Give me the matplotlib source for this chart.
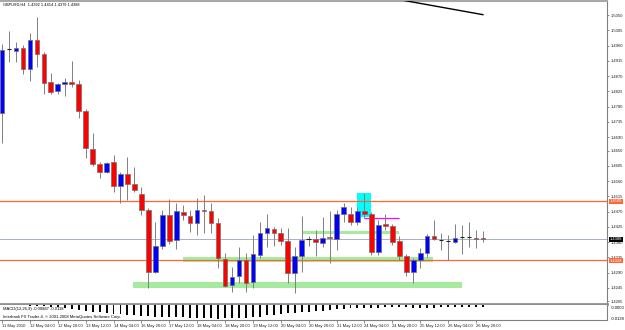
import numpy as np
import matplotlib.pyplot as plt
import matplotlib.transforms as mtransforms
from matplotlib.patches import Rectangle

plt.rcParams['font.family'] = ['Liberation Sans', 'DejaVu Sans']

# GBPUSD H4, 11 May 2010 12:00 -> 27 May 2010 00:00
opens = [1.4761, 1.4950, 1.4944, 1.4953, 1.4891, 1.4976, 1.4935, 1.4852, 1.4826, 1.4846,
         1.4852, 1.4846, 1.4767, 1.4655, 1.4610, 1.4587, 1.4616, 1.4546, 1.4581, 1.4551,
         1.4522, 1.4475, 1.4292, 1.4369, 1.4460, 1.4386, 1.4469, 1.4457, 1.4436, 1.4475,
         1.4472, 1.4436, 1.4330, 1.4254, 1.4280, 1.4327, 1.4262, 1.4342, 1.4407, 1.4419,
         1.4407, 1.4383, 1.4289, 1.4339, 1.4388, 1.4389, 1.4377, 1.4395, 1.4389, 1.4463,
         1.4463, 1.4439, 1.4472, 1.4463, 1.4351, 1.4433, 1.4428, 1.4383, 1.4339, 1.4292,
         1.4327, 1.4348, 1.4398, 1.4386, 1.4383, 1.4380, 1.4395, 1.4395, 1.4392, 1.4392]
highs = [1.4964, 1.5003, 1.4970, 1.4962, 1.4997, 1.5044, 1.4941, 1.4879, 1.4849, 1.4864,
         1.4914, 1.4858, 1.4773, 1.4702, 1.4616, 1.4616, 1.4637, 1.4587, 1.4631, 1.4602,
         1.4543, 1.4481, 1.4439, 1.4475, 1.4507, 1.4495, 1.4490, 1.4475, 1.4510, 1.4519,
         1.4495, 1.4451, 1.4348, 1.4307, 1.4366, 1.4348, 1.4401, 1.4439, 1.4463, 1.4425,
         1.4422, 1.4422, 1.4366, 1.4457, 1.4398, 1.4416, 1.4454, 1.4472, 1.4475, 1.4495,
         1.4484, 1.4484, 1.4525, 1.4469, 1.4445, 1.4463, 1.4433, 1.4398, 1.4345, 1.4333,
         1.4363, 1.4404, 1.4445, 1.4407, 1.4401, 1.4433, 1.4431, 1.4439, 1.4416, 1.4414]
lows = [1.4672, 1.4911, 1.4911, 1.4876, 1.4855, 1.4897, 1.4817, 1.4817, 1.4817, 1.4811,
        1.4838, 1.4746, 1.4628, 1.4605, 1.4569, 1.4584, 1.4528, 1.4495, 1.4504, 1.4528,
        1.4460, 1.4245, 1.4290, 1.4360, 1.4374, 1.4360, 1.4445, 1.4410, 1.4401, 1.4407,
        1.4407, 1.4304, 1.4249, 1.4233, 1.4259, 1.4233, 1.4245, 1.4333, 1.4366, 1.4369,
        1.4372, 1.4259, 1.4230, 1.4292, 1.4369, 1.4339, 1.4366, 1.4318, 1.4357, 1.4439,
        1.4431, 1.4431, 1.4451, 1.4342, 1.4342, 1.4416, 1.4372, 1.4327, 1.4280, 1.4259,
        1.4304, 1.4336, 1.4386, 1.4357, 1.4327, 1.4377, 1.4345, 1.4366, 1.4363, 1.4379]
closes = [1.4947, 1.4950, 1.4953, 1.4891, 1.4976, 1.4935, 1.4849, 1.4823, 1.4846, 1.4852,
          1.4846, 1.4767, 1.4658, 1.4610, 1.4587, 1.4613, 1.4546, 1.4581, 1.4551, 1.4534,
          1.4475, 1.4292, 1.4369, 1.4460, 1.4383, 1.4472, 1.4460, 1.4436, 1.4475, 1.4472,
          1.4436, 1.4333, 1.4251, 1.4277, 1.4327, 1.4259, 1.4345, 1.4407, 1.4422, 1.4407,
          1.4383, 1.4289, 1.4339, 1.4386, 1.4388, 1.4380, 1.4392, 1.4392, 1.4463, 1.4484,
          1.4439, 1.4472, 1.4463, 1.4351, 1.4431, 1.4428, 1.4380, 1.4339, 1.4292, 1.4327,
          1.4348, 1.4398, 1.4389, 1.4386, 1.4383, 1.4392, 1.4395, 1.4395, 1.4389, 1.4388]
macd = [0.0, 0.0, 0.0, -0.0002, -0.0005, -0.0008, -0.0012, -0.0018, -0.0024, -0.0030,
        -0.0037, -0.0046, -0.0055, -0.0064, -0.0066, -0.0074, -0.0083, -0.0085, -0.0092, -0.0101,
        -0.0103, -0.0110, -0.0112, -0.0112, -0.0118, -0.0120, -0.0120, -0.0122, -0.0127, -0.0129,
        -0.0130, -0.0131, -0.0123, -0.0123, -0.0129, -0.0129, -0.0114, -0.0114, -0.0098, -0.0092,
        -0.0086, -0.0077, -0.0077, -0.0068, -0.0068, -0.0061, -0.0055, -0.0052, -0.0040, -0.0037,
        -0.0031, -0.0031, -0.0031, -0.0031, -0.0025, -0.0021, -0.0021, -0.0021, -0.0021, -0.0028,
        -0.0028, -0.0025, -0.0025, -0.0023, -0.0021, -0.0021, -0.0021, -0.0018, -0.0016, -0.0016]

price_ticks = [1.5050, 1.5005, 1.4960, 1.4915, 1.4870, 1.4825, 1.4780, 1.4735, 1.4690, 1.4650,
               1.4605, 1.4560, 1.4515, 1.4470, 1.4425, 1.4380, 1.4335, 1.4290, 1.4245, 1.4205]
time_labels = ['11 May 2010', '12 May 04:00', '12 May 20:00', '13 May 12:00', '14 May 04:00',
               '16 May 20:00', '17 May 12:00', '18 May 04:00', '18 May 20:00', '19 May 12:00',
               '20 May 04:00', '20 May 20:00', '21 May 12:00', '24 May 04:00', '24 May 20:00',
               '25 May 12:00', '26 May 04:00', '26 May 20:00']

# chart objects (bar index, price)
levels = [1.4500, 1.4328]
bid = 1.4388
zones = [(18.8, 66.0, 1.4244, 1.4262), (26.0, 61.8, 1.4320, 1.4336), (43.0, 57.0, 1.4404, 1.4413)]

W, H = 625, 330
fig = plt.figure(figsize=(W / 100, H / 100), dpi=100)

def box(x0, y0, x1, y1):
    return [x0 / W, 1 - y1 / H, (x1 - x0) / W, (y1 - y0) / H]

ax = fig.add_axes(box(0, 1, 607, 304))
ax2 = fig.add_axes(box(0, 305, 607, 320))

idx = np.arange(len(opens))
o, h, l, c = map(np.array, (opens, highs, lows, closes))
up, dn, flat = c > o, c < o, c == o

for x0, x1, y0, y1 in zones:
    ax.add_patch(Rectangle((x0, y0), x1 - x0, y1 - y0, facecolor='#a6eaa0', lw=0, zorder=1))
ax.add_patch(Rectangle((51, 1.4454), 2, 0.0071, facecolor='#00ffff', lw=0, zorder=1))
ax.hlines(1.4451, 52, 57, color='#ff00ff', lw=0.9, zorder=2)
for lv in levels:
    ax.axhline(lv, color='#ff6633', lw=0.9, zorder=2)
ax.axhline(bid, color='#a8b0c4', lw=0.7, zorder=2)

ax.vlines(idx, l, h, color='#808080', lw=0.7, zorder=3)
ax.bar(idx[up], (c - o)[up], bottom=o[up], width=0.66, color='#0000ff',
       edgecolor='#707070', lw=0.5, zorder=4)
ax.bar(idx[dn], (o - c)[dn], bottom=c[dn], width=0.66, color='#ff0000',
       edgecolor='#707070', lw=0.5, zorder=4)
ax.hlines(o[flat], idx[flat] - 0.33, idx[flat] + 0.33, color='#202020', lw=0.8, zorder=4)

# trend line at the top
ax.plot([56, 69], [1.5099, 1.5051], color='black', lw=1.0, zorder=5)

xlim = (-2 / 6.97, 605 / 6.97)
ax.set_xlim(*xlim)
ax.set_ylim(1.41975, 1.50913)
ax.set_xticks([])
ax.yaxis.tick_right()
ax.set_yticks(price_ticks)
ax.set_yticklabels([f'{p:.4f}' for p in price_ticks])
ax.tick_params(axis='y', direction='out', length=1.5, width=0.5, colors='#606060',
               labelcolor='#202020', labelsize=3, pad=1)
ax.spines['left'].set_visible(False)
ax.spines['top'].set_color('#a8a8a8')
ax.spines['top'].set_linewidth(1.5)
ax.spines['right'].set_color('#808080')
ax.spines['right'].set_linewidth(0.8)
ax.spines['bottom'].set_color('#909090')
ax.spines['bottom'].set_linewidth(2)

trans = mtransforms.blended_transform_factory(ax.transAxes, ax.transData)
for p, fc, dy in [(levels[0], '#ff6633', 0), (levels[1], '#ff6633', -0.0003), (bid, 'black', 0)]:
    ax.text(1.0045, p + dy, f'{p:.4f}', transform=trans, fontsize=3, color='white', va='center',
            ha='left', clip_on=False, zorder=10,
            bbox=dict(boxstyle='square,pad=0.15', fc=fc, ec='none'))

# oscillator window
ax2.bar(idx, macd, width=0.28, color='black', zorder=3)
ax2.set_xlim(*xlim)
ax2.set_ylim(-0.0145, 0)
ax2.set_yticks([])
ax2.spines['left'].set_visible(False)
ax2.spines['top'].set_visible(False)
ax2.spines['right'].set_color('#808080')
ax2.spines['right'].set_linewidth(0.8)
ax2.spines['bottom'].set_color('#808080')
ax2.spines['bottom'].set_linewidth(0.8)
ax2.text(1.006, 0.8, '-0.0000', transform=ax2.transAxes, fontsize=3, va='center', ha='left')
ax2.text(1.006, 0.1, '-0.0138', transform=ax2.transAxes, fontsize=3, va='center', ha='left')
ax2.set_xticks(idx[::4])
ax2.set_xticklabels(time_labels, ha='left', fontsize=3)
ax2.tick_params(axis='x', direction='out', length=2.5, width=0.5, colors='#606060',
                labelcolor='#202020', pad=0.5)

fig.text(3 / W, 1 - 4.5 / H, 'GBPUSD,H4  1.4392 1.4414 1.4379 1.4388', fontsize=2.8,
         va='center', ha='left')
fig.text(3 / W, 1 - 309 / H, 'MACD(12,26,9) -0.00887 -0.0118', fontsize=3, va='center',
         ha='left', zorder=10, bbox=dict(boxstyle='square,pad=0.1', fc='white', ec='none'))
fig.text(3 / W, 1 - 317 / H, 'Interbank FX Trader 4, \u00a9 2001-2008 MetaQuotes Software Corp.',
         fontsize=3, va='center', ha='left', zorder=10)

fig.savefig('out.png', dpi=100, facecolor='white')
